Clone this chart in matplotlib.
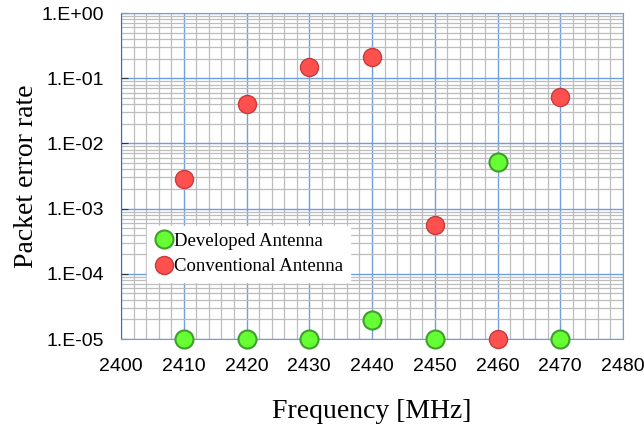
import numpy as np
import matplotlib.pyplot as plt
from matplotlib.ticker import MultipleLocator, LogLocator, FuncFormatter

# Data
freq = [2410, 2420, 2430, 2440, 2450, 2460, 2470]
developed = [1e-5, 1e-5, 1e-5, 1.95e-5, 1e-5, 5.1e-3, 1e-5]
conventional = [2.8e-3, 4.0e-2, 0.148, 0.21, 5.6e-4, 1e-5, 0.051]

blue = '#6f9fdc'
grey = '#bdbdbd'

fig = plt.figure(figsize=(6.44, 4.37), dpi=100)
ax = fig.add_axes([121 / 644, 1 - 339 / 437, 502 / 644, 326 / 437])

ax.set_yscale('log')
ax.set_xlim(2400, 2480)
ax.set_ylim(1e-5, 1)

ax.xaxis.set_major_locator(MultipleLocator(10))
ax.xaxis.set_minor_locator(MultipleLocator(2))
ax.yaxis.set_major_locator(LogLocator(base=10, numticks=10))
ax.yaxis.set_minor_locator(LogLocator(base=10, subs=np.arange(2, 10), numticks=10))
ax.yaxis.set_major_formatter(FuncFormatter(lambda v, p: '1.E%+03d' % round(np.log10(v))))

ax.grid(which='minor', color=grey, linewidth=0.9)
ax.grid(which='major', color=blue, linewidth=1.0)
ax.set_axisbelow(True)

for s in ax.spines.values():
    s.set_color(blue)
ax.spines['left'].set_color('#4a6a9a')

ax.tick_params(which='major', axis='y', direction='in', length=5, color='#333333',
               labelsize=14, pad=12)
ax.tick_params(which='major', axis='x', length=0, labelsize=14, pad=14)
ax.tick_params(which='minor', length=0)
for lab in ax.get_xticklabels() + ax.get_yticklabels():
    lab.set_fontfamily('Liberation Sans')

ax.plot(freq, developed, 'o', ms=13, mfc='#66ff33', mec='#3f9e2c', mew=1.5,
        clip_on=False, zorder=5, label='Developed Antenna')
ax.plot(freq, conventional, 'o', ms=13, mfc='#ff5050', mec='#c23c3c', mew=1.0,
        clip_on=False, zorder=5, label='Conventional Antenna')

leg = ax.legend(loc='upper left', bbox_to_anchor=(26 / 502, 113 / 326),
                prop={'family': 'Liberation Serif', 'size': 13.5},
                frameon=True, fancybox=False, framealpha=1, edgecolor='white',
                handletextpad=0.0, borderpad=0.35, labelspacing=0.45,
                handlelength=1.1, borderaxespad=0)

ax.set_xlabel('Frequency [MHz]', family='Liberation Serif', fontsize=20, labelpad=17)
ax.set_ylabel('Packet error rate', family='Liberation Serif', fontsize=20, labelpad=2)

fig.savefig('out.png', dpi=100)
